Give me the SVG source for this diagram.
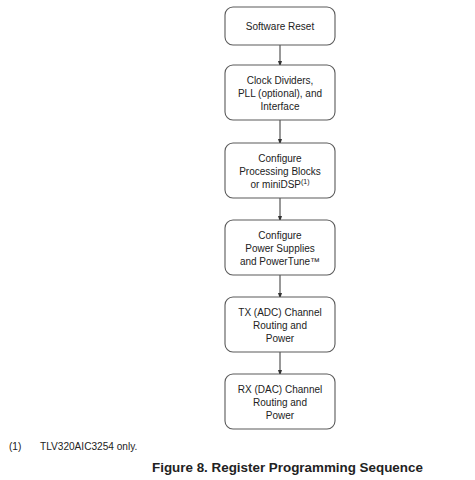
<svg xmlns="http://www.w3.org/2000/svg" width="475" height="480" viewBox="0 0 475 480">
<style>
.box{fill:#fff;stroke:#5a5a5a;stroke-width:1.1}
.t{font-family:"Liberation Sans",Arial,sans-serif;font-size:10px;fill:#222;text-anchor:middle}
.c{stroke:#333;stroke-width:1;fill:none}
.fn{font-family:"Liberation Sans",Arial,sans-serif;font-size:10.1px;fill:#222}
.title{font-family:"Liberation Sans",Arial,sans-serif;font-size:13.4px;font-weight:bold;fill:#222}
</style>
<defs>
<marker id="ah" markerWidth="6" markerHeight="9" refX="6" refY="3" orient="auto" markerUnits="userSpaceOnUse" viewBox="0 0 9 6">
<path d="M0,0 L9,3 L0,6 Z" fill="#333"/>
</marker>
</defs>
<rect width="475" height="480" fill="#fff"/>
<g id="connectors">
<line class="c" x1="280" y1="45" x2="280" y2="65" marker-end="url(#ah)"/>
<line class="c" x1="280" y1="120" x2="280" y2="143" marker-end="url(#ah)"/>
<line class="c" x1="280" y1="198" x2="280" y2="220" marker-end="url(#ah)"/>
<line class="c" x1="280" y1="275" x2="280" y2="297" marker-end="url(#ah)"/>
<line class="c" x1="280" y1="352" x2="280" y2="374" marker-end="url(#ah)"/>
</g>
<g id="n1">
<rect class="box" x="225" y="7" width="110" height="38" rx="8"/>
<text class="t" x="280" y="29.5">Software Reset</text>
</g>
<g id="n2">
<rect class="box" x="225" y="65" width="110" height="55" rx="8"/>
<text class="t" x="280" y="83.5">Clock Dividers,</text>
<text class="t" x="280" y="96.5">PLL (optional), and</text>
<text class="t" x="280" y="109.5">Interface</text>
</g>
<g id="n3">
<rect class="box" x="225" y="143" width="110" height="55" rx="8"/>
<text class="t" x="280" y="161.5">Configure</text>
<text class="t" x="280" y="174.5">Processing Blocks</text>
<text class="t" x="280" y="188">or miniDSP<tspan font-size="7" dy="-4.5">(1)</tspan></text>
</g>
<g id="n4">
<rect class="box" x="225" y="220" width="110" height="55" rx="8"/>
<text class="t" x="280" y="238.5">Configure</text>
<text class="t" x="280" y="251.5">Power Supplies</text>
<text class="t" x="280" y="264.5">and PowerTune™</text>
</g>
<g id="n5">
<rect class="box" x="225" y="297" width="110" height="55" rx="8"/>
<text class="t" x="280" y="315.5">TX (ADC) Channel</text>
<text class="t" x="280" y="328.5">Routing and</text>
<text class="t" x="280" y="341.5">Power</text>
</g>
<g id="n6">
<rect class="box" x="225" y="374" width="110" height="55" rx="8"/>
<text class="t" x="280" y="392.5">RX (DAC) Channel</text>
<text class="t" x="280" y="405.5">Routing and</text>
<text class="t" x="280" y="418.5">Power</text>
</g>
<g id="footnote">
<text class="fn" x="9" y="450">(1)</text>
<text class="fn" x="40" y="450">TLV320AIC3254 only.</text>
</g>
<text class="title" x="152" y="472">Figure 8. Register Programming Sequence</text>
</svg>
